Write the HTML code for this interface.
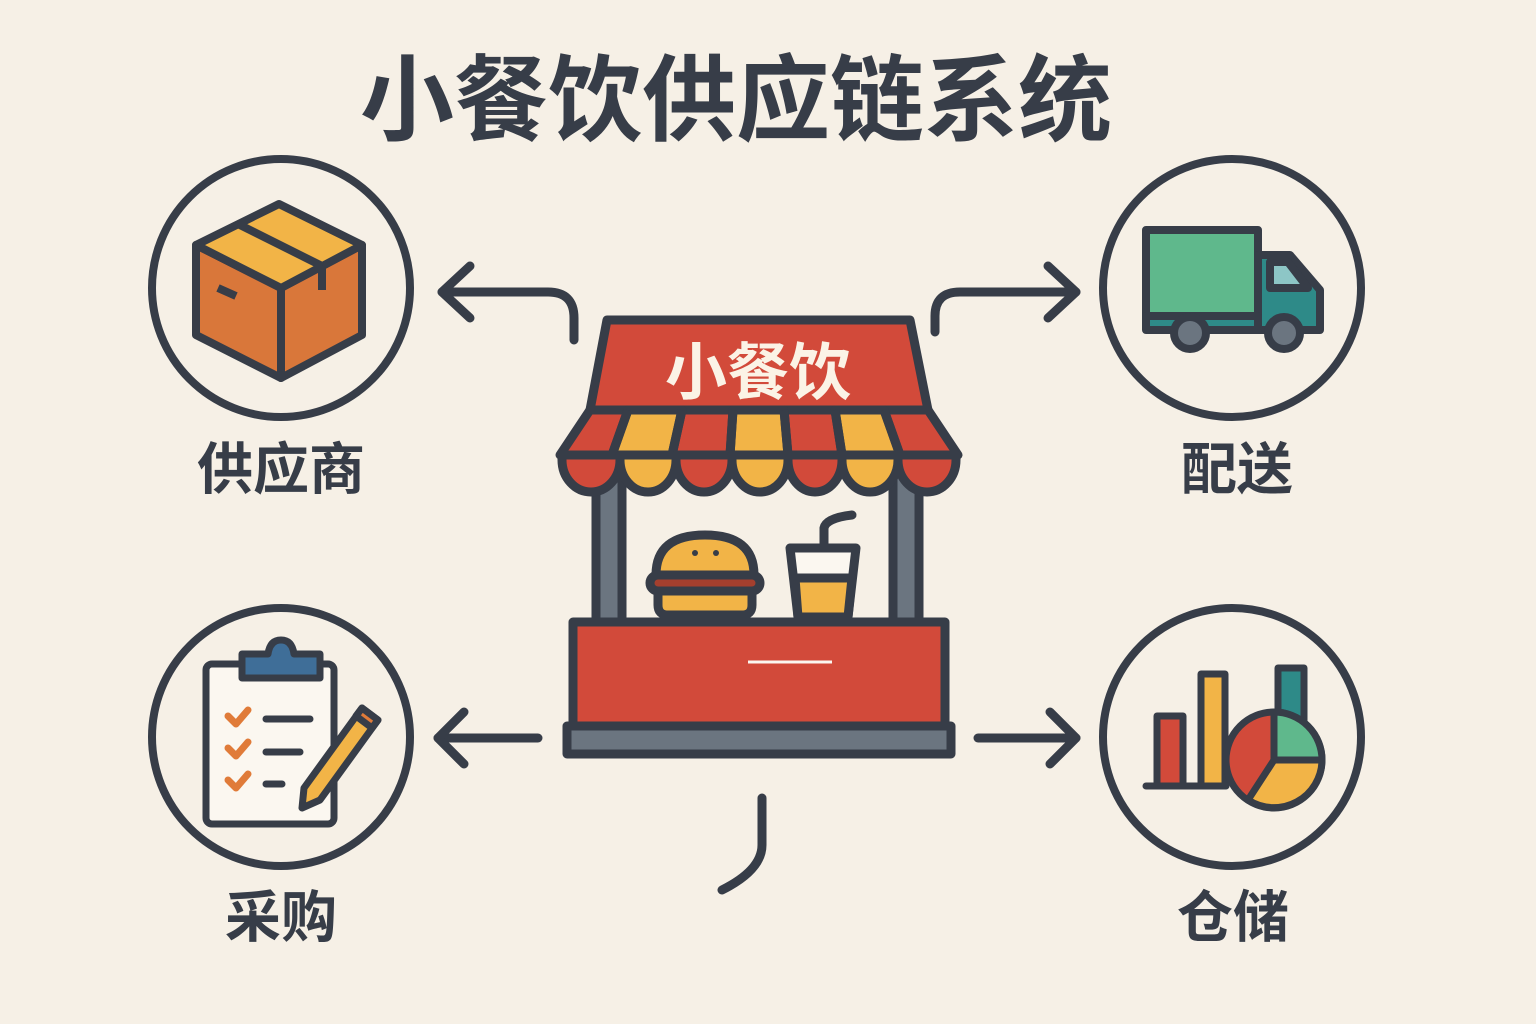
<!DOCTYPE html>
<html><head><meta charset="utf-8"><style>
html,body{margin:0;padding:0;background:#f6f0e6;}
svg{display:block}
text{font-family:"Liberation Sans","Noto Sans CJK SC",sans-serif;font-weight:bold}
</style></head><body>
<svg width="1536" height="1024" viewBox="0 0 1536 1024" xmlns="http://www.w3.org/2000/svg">
<rect width="1536" height="1024" fill="#f6f0e6"/>
<text x="736" y="133" font-size="94" fill="#373d48" text-anchor="middle">小餐饮供应链系统</text>
<g fill="none" stroke="#373d48" stroke-width="8">
<circle cx="281" cy="288" r="129"/>
<circle cx="1232" cy="288" r="129"/>
<circle cx="281" cy="737" r="129"/>
<circle cx="1232" cy="737" r="129"/>
</g>
<g fill="#373d48" font-size="56" text-anchor="middle">
<text x="281" y="489">供应商</text>
<text x="1237" y="489">配送</text>
<text x="281" y="937">采购</text>
<text x="1233" y="937">仓储</text>
</g>
<!-- arrows -->
<g fill="none" stroke="#373d48" stroke-width="9" stroke-linecap="round" stroke-linejoin="round">
<path d="M574 340 V318 Q574 292 548 292 H442"/>
<path d="M470 266 L442 292 L470 318"/>
<path d="M935 332 V316 Q935 292 960 292 H1076"/>
<path d="M1048 266 L1076 292 L1048 318"/>
<path d="M538 738 H438"/>
<path d="M464 712 L438 738 L464 764"/>
<path d="M978 738 H1076"/>
<path d="M1050 712 L1076 738 L1050 764"/>
<path d="M762 798 V845 Q762 870 722 890"/>
</g>
<!-- box icon -->
<g stroke="#373d48" stroke-width="8" stroke-linejoin="round">
<path d="M196 245 L281 288 L281 378 L196 335 Z" fill="#d9773a"/>
<path d="M281 288 L362 245 L362 335 L281 378 Z" fill="#d9773a"/>
<path d="M196 245 L279 204 L362 245 L281 288 Z" fill="#f2b447"/>
<path d="M238 224 L322 266" fill="none"/>
<path d="M322 266 V290" fill="none"/>
<path d="M218 288 L236 296" fill="none"/>
</g>
<!-- truck -->
<g stroke="#373d48" stroke-width="8" stroke-linejoin="round">
<rect x="1146" y="230" width="112" height="86" fill="#5fb88c"/>
<path d="M1258 255 H1290 L1320 290 V330 H1258 Z" fill="#2e8a88"/>
<path d="M1270 262 H1288 L1308 288 H1270 Z" fill="#8dc6c6"/>
<rect x="1146" y="316" width="112" height="14" fill="#2e8a88"/>
<circle cx="1190" cy="333" r="16" fill="#6b7580"/>
<circle cx="1284" cy="333" r="16" fill="#6b7580"/>
</g>
<!-- clipboard -->
<g stroke="#373d48" stroke-width="7" stroke-linejoin="round" stroke-linecap="round">
<rect x="206" y="664" width="128" height="160" rx="6" fill="#fbf7f0"/>
<path d="M242 666 V654 H268 Q270 640 281 640 Q292 640 294 654 H320 V678 H242 Z" fill="#3f6e98"/>
<path d="M266 719 H310 M266 752 H300 M266 784 H282" fill="none"/>
<path d="M228 716 l8 8 l12 -14 M228 748 l8 8 l12 -14 M228 780 l8 8 l12 -14" stroke="#e07b39" fill="none"/>
<path d="M362 708 L378 720 L320 800 L302 808 L304 788 Z" fill="#f2b447"/>
<path d="M362 708 L378 720 L372 728 L356 716 Z" fill="#e07b39"/>
</g>
<!-- chart -->
<g stroke="#373d48" stroke-width="7" stroke-linejoin="round" stroke-linecap="round">
<rect x="1157" y="716" width="26" height="70" fill="#d24a3a"/>
<rect x="1201" y="674" width="24" height="112" fill="#f2b447"/>
<rect x="1278" y="668" width="26" height="60" fill="#2e8a88"/>
<path d="M1146 786 H1226" fill="none"/>
<circle cx="1274" cy="760" r="48" fill="#d24a3a"/>
<path d="M1274 760 V712 A48 48 0 0 1 1322 760 Z" fill="#5fb88c"/>
<path d="M1274 760 H1322 A48 48 0 0 1 1248 800 Z" fill="#f2b447"/>
</g>
<!-- stall -->
<g stroke="#373d48" stroke-width="9" stroke-linejoin="round">
<rect x="596" y="470" width="26" height="155" fill="#6b7580"/>
<rect x="893" y="470" width="26" height="155" fill="#6b7580"/>
<path d="M607 320 H910 L928 410 H590 Z" fill="#d24a3a"/>
<path d="M590 410 H928 L958 455 H560 Z" fill="#d24a3a"/>
<path d="M628 410 L612 455 H672 L682 410 Z" fill="#f2b447"/>
<path d="M733 410 L730 455 H788 L784 410 Z" fill="#f2b447"/>
<path d="M835 410 L842 455 H900 L884 410 Z" fill="#f2b447"/>
<path d="M682 410 L672 455 M733 410 L730 455 M784 410 L788 455 M835 410 L842 455 M628 410 L612 455 M884 410 L900 455" fill="none"/>
<path d="M562 455 H620 V460 A29 32 0 0 1 562 460 Z" fill="#d24a3a"/>
<path d="M620 455 H676 V460 A28 32 0 0 1 620 460 Z" fill="#f2b447"/>
<path d="M676 455 H732 V460 A28 32 0 0 1 676 460 Z" fill="#d24a3a"/>
<path d="M732 455 H788 V460 A28 32 0 0 1 732 460 Z" fill="#f2b447"/>
<path d="M788 455 H842 V460 A27 32 0 0 1 788 460 Z" fill="#d24a3a"/>
<path d="M842 455 H898 V460 A28 32 0 0 1 842 460 Z" fill="#f2b447"/>
<path d="M898 455 H956 V460 A29 32 0 0 1 898 460 Z" fill="#d24a3a"/>
<!-- burger -->
<path d="M656 575 Q656 535 705 535 Q754 535 754 575 Z" fill="#f2b447"/>
<rect x="650" y="575" width="110" height="16" rx="8" fill="#a43f2e"/>
<path d="M658 591 H752 V605 Q752 615 742 615 H668 Q658 615 658 605 Z" fill="#f2b447"/>
<!-- cup -->
<path d="M790 548 H856 L848 617 H798 Z" fill="#fbf7f0"/>
<path d="M795 578 H852 L848 617 H798 Z" fill="#f2b447"/>
<path d="M824 548 V528 Q826 518 852 515" fill="none" stroke-linecap="round"/>
<rect x="573" y="622" width="372" height="104" fill="#d24a3a"/>
<rect x="567" y="726" width="384" height="28" fill="#6b7580"/>
</g>
<circle cx="695" cy="553" r="3" fill="#373d48"/><circle cx="716" cy="553" r="3" fill="#373d48"/>
<path d="M748 662 H832" stroke="#fbf7f0" stroke-width="3"/>
<text x="758" y="394" font-size="62" fill="#fbf3e6" text-anchor="middle">小餐饮</text>
</svg>
</body></html>
